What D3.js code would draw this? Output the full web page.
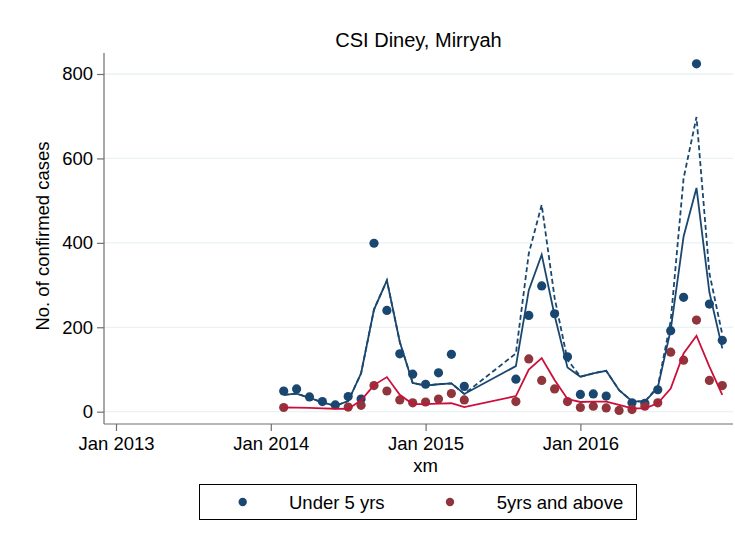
<!DOCTYPE html>
<html>
<head>
<meta charset="utf-8">
<script src="https://cdn.jsdelivr.net/npm/d3@7"></script>
<style>
  html, body { margin: 0; padding: 0; background: #fff; }
  svg { display: block; font-family: "Liberation Sans", Arial, Helvetica, sans-serif; }
</style>
</head>
<body>
<svg id="chart" width="735" height="541"></svg>
<script>
// ---- data (monthly) ----
const months = ["2014-02","2014-03","2014-04","2014-05","2014-06","2014-07","2014-08","2014-09","2014-10","2014-11","2014-12",
                "2015-01","2015-02","2015-03","2015-04",
                "2015-08","2015-09","2015-10","2015-11","2015-12",
                "2016-01","2016-02","2016-03","2016-04","2016-05","2016-06","2016-07","2016-08","2016-09","2016-10","2016-11","2016-12"];
const under5 = [49,54,35,24,16,36,30,399,240,137,89,65,92,136,60,
                77,228,298,232,130,41,42,37,null,21,20,52,192,271,824,255,169];
const over5  = [10,null,null,null,null,11,15,62,49,28,21,23,30,43,28,
                24,125,74,54,24,10,13,9,3,5,13,21,141,122,217,74,62];
const fitUnder5 = [40,43,33,22,14,25,91,242,311,165,68,62,65,67,42,
                   108,288,372,228,105,83,91,97,51,25,24,57,194,415,530,283,150];
const uppUnder5 = [40,43,33,22,14,25,91,242,311,165,68,62,65,67,42,
                   138,375,490,270,123,83,91,97,51,25,24,59,215,553,698,328,183];
const fitOver5  = [10,9.5,9,8,7,6.5,27,63,82,40,18,18,19,20,11,
                   37,100,127,75,30,23,24,24,16,8,8,20,55,138,180,107,40];
const xTickMonths = ["2013-01","2014-01","2015-01","2016-01"];
const xTickLabels = ["Jan 2013","Jan 2014","Jan 2015","Jan 2016"];
const yTicks = [0,200,400,600,800];
const titleText = "CSI Diney, Mirryah";
const yLabel = "No. of confirmed cases";
const xLabel = "xm";
const legendLabels = ["Under 5 yrs","5yrs and above"];

// ---- helpers ----
const mIndex = s => { const [yy,mm] = s.split("-").map(Number); return (yy-2013)*12 + (mm-1); };
const mi = months.map(mIndex);

const svg = d3.select("#chart");
const pL = 104, pR = 733, pT = 53, pB = 424;
const BLUE = "#1a476f", MAROON = "#90353b", RED = "#cc0f3a";
const FONT = 18.5;

const x = d3.scaleLinear().domain([-0.93, 47.83]).range([pL, pR]);
const y = d3.scaleLinear().domain([0, 800]).range([411.7, 74]);

// grid
svg.append("g").selectAll("line").data(yTicks).join("line")
  .attr("x1", pL).attr("x2", pR)
  .attr("y1", d => y(d)).attr("y2", d => y(d))
  .attr("stroke", "#eaf2f3").attr("stroke-width", 1.3);

// axes
const yAxis = d3.axisLeft(y).tickValues(yTicks).tickSize(7).tickPadding(4);
const gy = svg.append("g").attr("transform", `translate(${pL},0)`).call(yAxis);
gy.select(".domain").remove();
svg.append("line").attr("x1", pL).attr("x2", pL).attr("y1", pT).attr("y2", pB)
  .attr("stroke", "#6e6e6e").attr("stroke-width", 1.2);
gy.selectAll(".tick line").attr("stroke", "#6e6e6e").attr("stroke-width", 1.2);
gy.selectAll(".tick text").attr("font-size", FONT).attr("fill", "#000")
  .attr("font-family", "Liberation Sans, Arial, sans-serif");

const xAxis = d3.axisBottom(x).tickValues(xTickMonths.map(mIndex))
  .tickFormat((d,i) => xTickLabels[i]).tickSize(7).tickPadding(6);
const gx = svg.append("g").attr("transform", `translate(0,${pB})`).call(xAxis);
gx.select(".domain").remove();
svg.append("line").attr("x1", pL).attr("x2", pR).attr("y1", pB).attr("y2", pB)
  .attr("stroke", "#6e6e6e").attr("stroke-width", 1.2);
gx.selectAll(".tick line").attr("stroke", "#6e6e6e").attr("stroke-width", 1.2);
gx.selectAll(".tick text").attr("font-size", FONT).attr("fill", "#000")
  .attr("font-family", "Liberation Sans, Arial, sans-serif");

// scatter
function dots(vals, color) {
  svg.append("g").selectAll("circle")
    .data(vals.map((v,i) => ({m: mi[i], v})).filter(d => d.v !== null))
    .join("circle")
    .attr("cx", d => x(d.m)).attr("cy", d => y(d.v)).attr("r", 4.6)
    .attr("fill", color);
}
dots(under5, BLUE);
dots(over5, MAROON);

// lines
function path(vals, color, dash) {
  const line = d3.line().x(d => x(d.m)).y(d => y(d.v));
  svg.append("path")
    .datum(vals.map((v,i) => ({m: mi[i], v})).filter(d => d.v !== null))
    .attr("d", line).attr("fill", "none").attr("stroke", color)
    .attr("stroke-width", 1.8).attr("stroke-linejoin", "miter")
    .attr("stroke-dasharray", dash || null);
}
path(fitUnder5, BLUE);
path(uppUnder5, BLUE, "5,3");
path(fitOver5, RED);

// title & labels
svg.append("text").attr("x", (pL+pR)/2).attr("y", 47).attr("text-anchor", "middle")
  .attr("font-size", 20).attr("fill", "#000").text(titleText);
svg.append("text").attr("transform", `translate(49,236) rotate(-90)`).attr("text-anchor", "middle")
  .attr("font-size", FONT).attr("fill", "#000").text(yLabel);
svg.append("text").attr("x", x(24)).attr("y", 472).attr("text-anchor", "middle")
  .attr("font-size", FONT).attr("fill", "#000").text(xLabel);

// legend
const lg = svg.append("g");
lg.append("rect").attr("x", 199.5).attr("y", 484.5).attr("width", 437).attr("height", 35)
  .attr("fill", "#fff").attr("stroke", "#000").attr("stroke-width", 1);
const lx = [242.7, 450], tx = [289, 496.7], lc = [BLUE, MAROON];
legendLabels.forEach((t,i) => {
  lg.append("circle").attr("cx", lx[i]).attr("cy", 502).attr("r", 4.2).attr("fill", lc[i]);
  lg.append("text").attr("x", tx[i]).attr("y", 508.5).attr("font-size", FONT).attr("fill", "#000").text(t);
});
</script>
</body>
</html>
